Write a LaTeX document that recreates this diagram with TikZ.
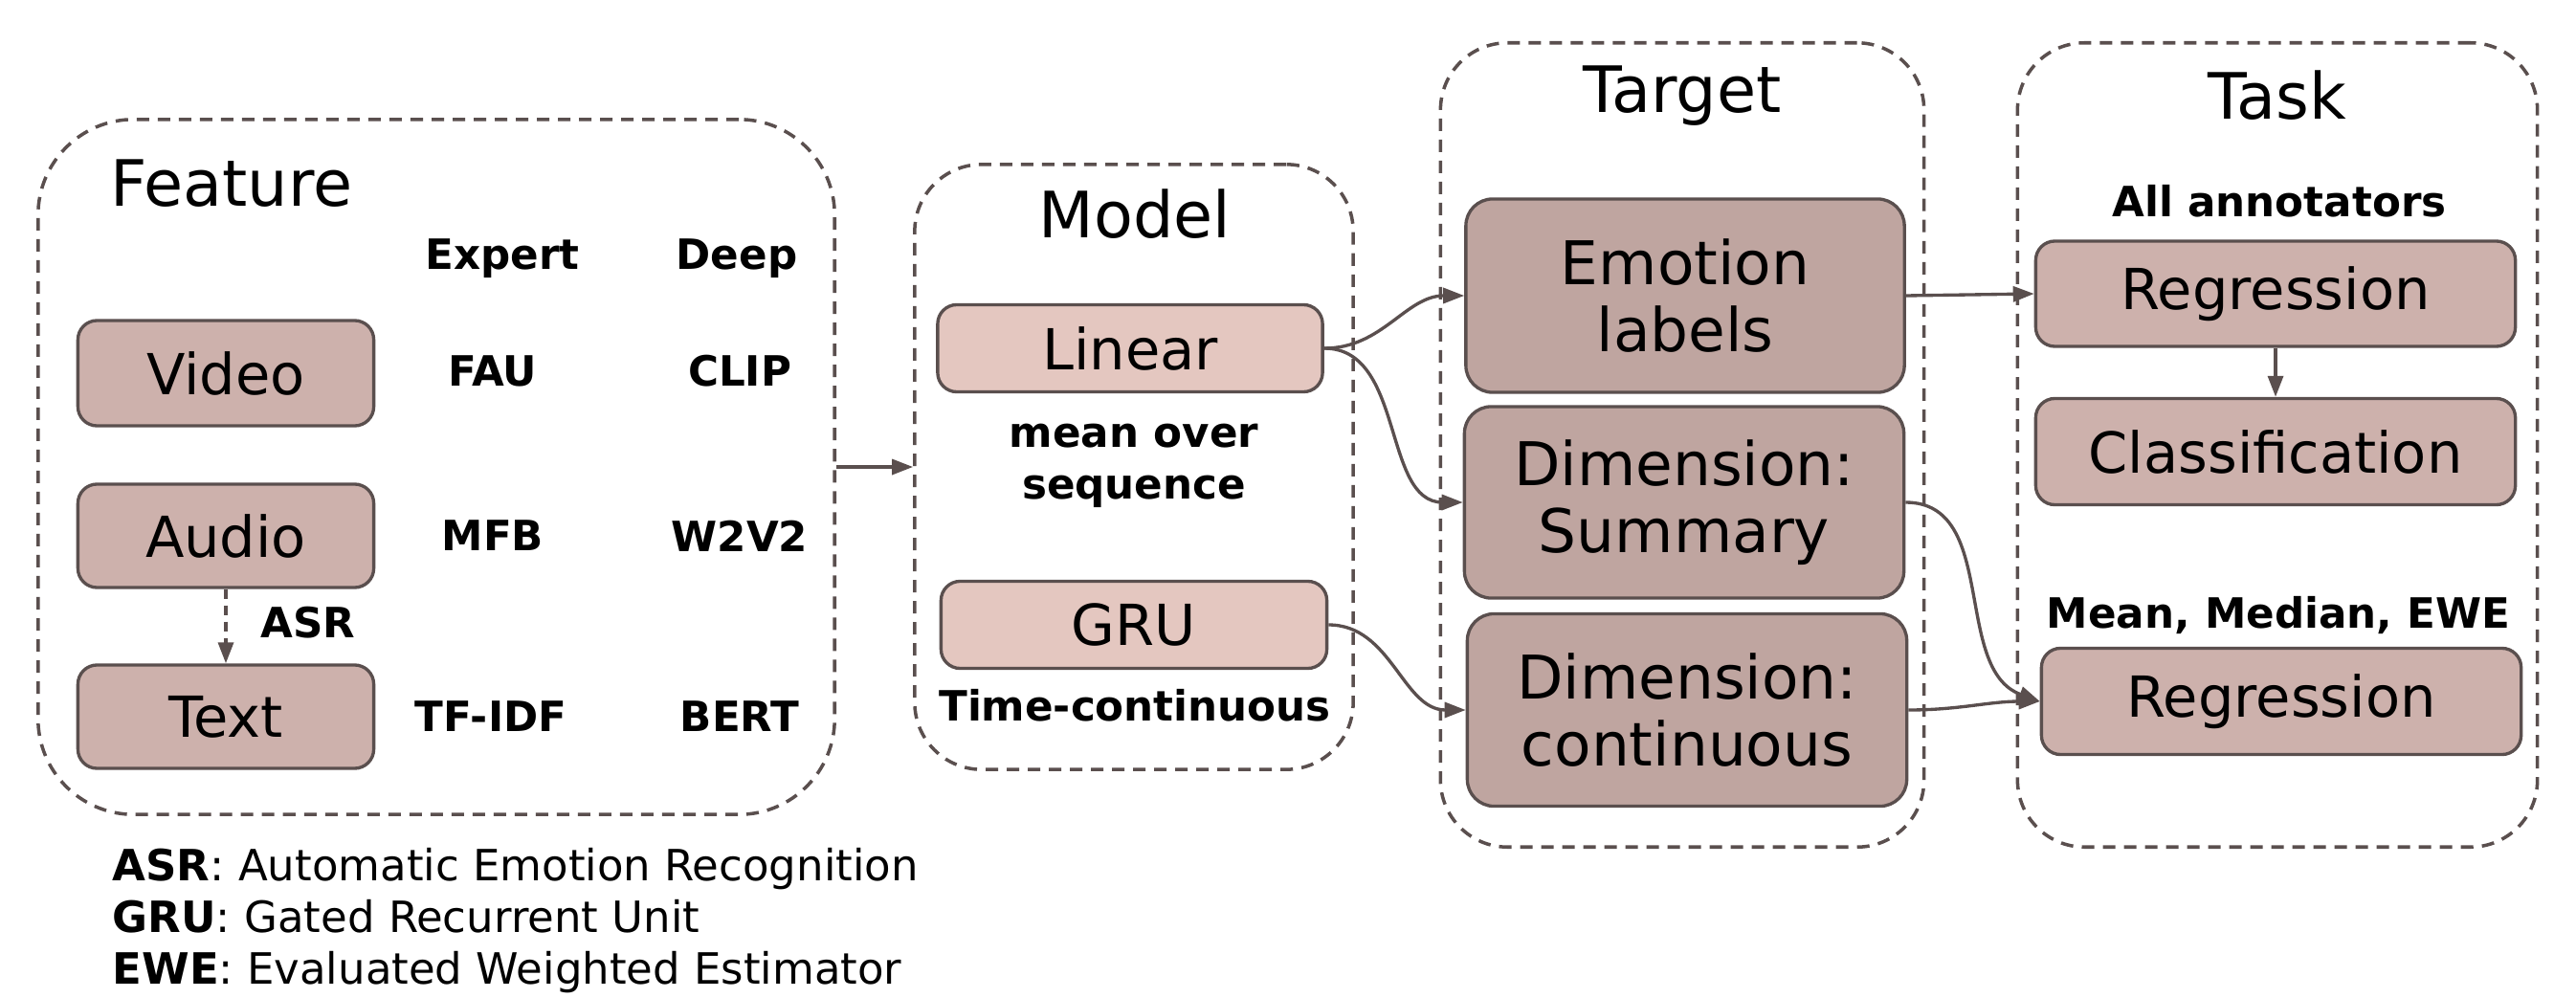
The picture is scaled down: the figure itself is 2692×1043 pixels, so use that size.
\documentclass[tikz,border=0pt]{standalone}
\usepackage{fontspec}
\setmainfont{DejaVu Sans}
\usetikzlibrary{arrows.meta}
\definecolor{edgegray}{HTML}{5A4F4E}
\definecolor{boxfill}{HTML}{CDB1AC}
\definecolor{modelfill}{HTML}{E4C7C0}
\definecolor{targetfill}{HTML}{BFA5A0}

\begin{document}
\begin{tikzpicture}[x=0.01cm,y=-0.01cm,
    groupbox/.style={draw=edgegray,line width=1pt,dash pattern=on 0.13cm off 0.09cm,rounded corners=0.7cm,inner sep=0pt},
    grouptitle/.style={font=\fontsize{19}{23}\selectfont},
    block/.style={draw=edgegray,line width=0.95pt,fill=boxfill,rounded corners=0.2cm,inner sep=0pt,font=\fontsize{16.8}{20}\selectfont},
    modelblock/.style={block,fill=modelfill},
    targetblock/.style={block,fill=targetfill,rounded corners=0.28cm,align=center,font=\fontsize{17.9}{19.9}\selectfont},
    tag/.style={font=\fontsize{12.4}{15.4}\selectfont\bfseries,align=center},
    conn/.style={draw=edgegray,line width=0.95pt,-{Triangle[length=0.22cm,width=0.16cm]}}]
    \useasboundingbox (0,0) rectangle (2692,1043);

    % groups
    \node[groupbox,rounded corners=1cm,minimum width=8.32cm,minimum height=7.26cm] (feature) at (456,488) {};
    \node[groupbox,minimum width=4.58cm,minimum height=6.32cm] (model) at (1185,488) {};
    \node[groupbox,minimum width=5.05cm,minimum height=8.40cm] (target) at (1758,465) {};
    \node[groupbox,minimum width=5.43cm,minimum height=8.40cm] (task) at (2380,465) {};
    \node[grouptitle] (featuretitle) at (242,192) {Feature};
    \node[grouptitle] (modeltitle) at (1186,224) {Model};
    \node[grouptitle] (targettitle) at (1758,100) {Target};
    \node[grouptitle] (tasktitle) at (2380,100) {Task};

    % feature
    \node[block,minimum width=3.09cm,minimum height=1.10cm] (video) at (236,390) {Video};
    \node[block,minimum width=3.09cm,minimum height=1.08cm] (audio) at (236,560) {Audio};
    \node[block,minimum width=3.09cm,minimum height=1.08cm] (text) at (236,749) {Text};
    \node[tag] (expert) at (525,270) {Expert};
    \node[tag] (deep) at (770,270) {Deep};
    \node[tag] (fau) at (515,388) {FAU};
    \node[tag] (clip) at (773,388) {CLIP};
    \node[tag] (mfb) at (515,560) {MFB};
    \node[tag] (wav) at (773,560) {W2V2};
    \node[tag] (tfidf) at (513,749) {TF-IDF};
    \node[tag] (bert) at (773,749) {BERT};
    \node[tag] (asr) at (322,651) {ASR};

    % model
    \node[modelblock,minimum width=4.02cm,minimum height=0.91cm] (linear) at (1181,364) {Linear};
    \node[tag] (meanseq) at (1185,487) {mean over\\sequence};
    \node[modelblock,minimum width=4.03cm,minimum height=0.91cm] (gru) at (1185,653) {GRU};
    \node[tag] (timecont) at (1186,737) {Time-continuous};

    % target
    \node[targetblock,minimum width=4.58cm,minimum height=2.02cm] (emotion) at (1761,309) {Emotion\\labels};
    \node[targetblock,minimum width=4.59cm,minimum height=2.00cm] (summary) at (1760,525) {Dimension:\\Summary};
    \node[targetblock,minimum width=4.59cm,minimum height=2.01cm] (continuous) at (1763,742) {Dimension:\\continuous};

    % task
    \node[tag] (allann) at (2382,210) {All annotators};
    \node[block,minimum width=5.01cm,minimum height=1.10cm] (regall) at (2378,307) {Regression};
    \node[block,minimum width=5.01cm,minimum height=1.11cm] (classif) at (2378,472) {Classification};
    \node[tag] (meanmed) at (2381,643) {Mean, Median, EWE};
    \node[block,minimum width=5.01cm,minimum height=1.11cm] (regagg) at (2384,733) {Regression};

    % legend
    \node[anchor=west,align=left,inner sep=0pt,font=\fontsize{12.8}{15.4}\selectfont] (legend) at (117,962)
        {\textbf{ASR}: Automatic Emotion Recognition\\\textbf{GRU}: Gated Recurrent Unit\\\textbf{EWE}: Evaluated Weighted Estimator};

    % connectors
    \draw[conn] (feature.east) -- (model.west);
    \draw[conn,dash pattern=on 0.1cm off 0.07cm] (audio.south) -- (text.north);
    \draw[conn] (linear.east) to[out=0,in=180] (emotion.west);
    \draw[conn] (linear.east) to[out=0,in=180] (summary.west);
    \draw[conn] (gru.east) to[out=0,in=180] (continuous.west);
    \draw[conn] (emotion.east) -- (regall.west);
    \draw[conn] (regall.south) -- (classif.north);
    \draw[conn] (summary.east) to[out=0,in=160] (regagg.west);
    \draw[conn] (continuous.east) to[out=0,in=180] (regagg.west);
\end{tikzpicture}
\end{document}
